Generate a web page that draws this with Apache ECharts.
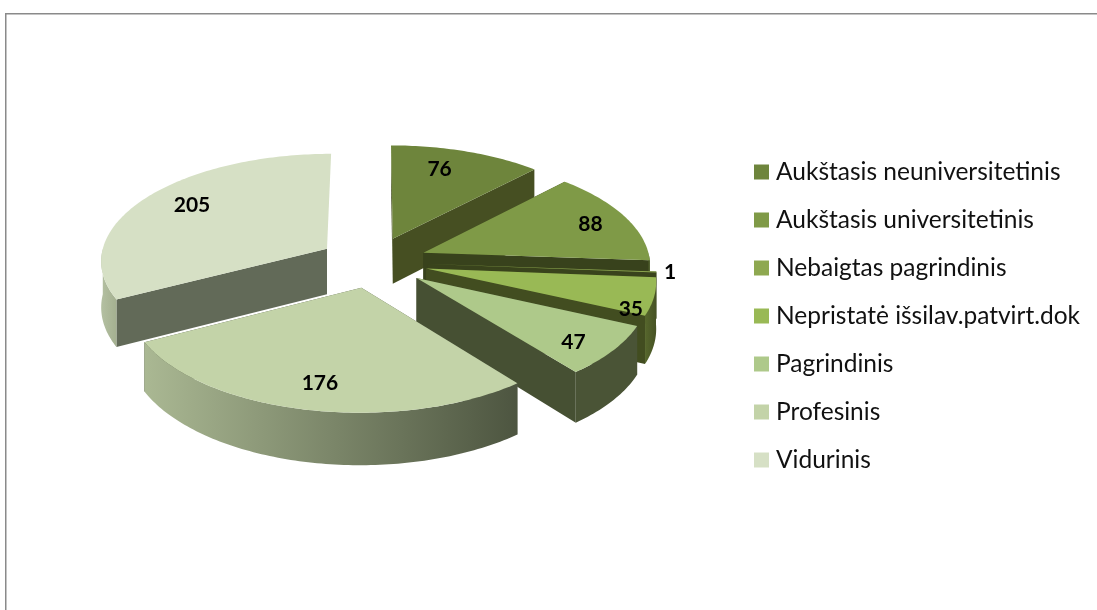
<!DOCTYPE html>
<html>
<head>
<meta charset="utf-8">
<style>
  html, body { margin: 0; padding: 0; background: #fff; }
  #main { width: 1097px; height: 610px; }
</style>
<script src="https://cdn.jsdelivr.net/npm/echarts@6/dist/echarts.min.js"></script>
</head>
<body>
<div id="main"></div>
<script>
const categories = ['Aukštasis neuniversitetinis', 'Aukštasis universitetinis', 'Nebaigtas pagrindinis',
  'Nepristatė išsilav.patvirt.dok', 'Pagrindinis', 'Profesinis', 'Vidurinis']
const values = [76, 88, 1, 35, 47, 176, 205]

const topColors = ['#6e853c', '#7f9a47', '#8ea850', '#99b955', '#aec98a', '#c3d3a8', '#d6e0c5']
const wallColors = ['#464f22', '#38421c', '#39431c', '#424d20', '#465033', '#4d5540', '#626a58']
const rimColors = [['#464f22', '#464f22'], ['#4a5a26', '#4a5a26'], ['#4a5a26', '#4a5a26'], ['#56662c', '#465224'],
  ['#4a5436', '#4a5436'], ['#aab893', '#4d5540'], ['#b4c0a2', '#a4b090']]
// where each number sits on its slice: radius, and turn away from the slice middle in degrees
const labelRadius = [0.76, 0.82, 1.06, 0.93, 0.84, 0.8, 0.77]
const labelTurn = [-4, 1, 0, 8.5, 3, -0.5, 3]
const paintOrder = [0, 6, 1, 2, 3, 4, 5]

// pie model, tilted and seen with a bit of perspective
const cx = 373, cy = 262, rx = 227, ry = 107, persp = 0.1, depth = 46, explode = 0.24

const total = values.reduce((a, b) => a + b, 0)
const toRad = d => d * Math.PI / 180

function project(u, v, down) {
  const k = 1 / (1 + persp * v)
  return [cx + rx * u * k, cy + (-ry * v + down) * k]
}

function sliceAngles(i) {
  const before = values.slice(0, i).reduce((a, b) => a + b, 0)
  return [before / total * 360, (before + values[i]) / total * 360]
}

// p in pie units for an angle (clockwise from the top) on slice i
function slicePoint(i, deg, r, down) {
  const [a0, a1] = sliceAngles(i)
  const mid = toRad((a0 + a1) / 2)
  const u = Math.sin(mid) * explode + Math.sin(toRad(deg)) * r
  const v = Math.cos(mid) * explode + Math.cos(toRad(deg)) * r
  return project(u, v, down)
}

function arcAngles(a0, a1) {
  const out = []
  for (let a = a0; a < a1; a += 1) out.push(a)
  out.push(a1)
  return out
}

function rimPoly(i, a0, a1) {
  const arc = arcAngles(a0, a1)
  return arc.map(a => slicePoint(i, a, 1, 0)).concat(arc.reverse().map(a => slicePoint(i, a, 1, depth)))
}

function wallPoly(i, deg) {
  return [slicePoint(i, deg, 0, 0), slicePoint(i, deg, 1, 0), slicePoint(i, deg, 1, depth), slicePoint(i, deg, 0, depth)]
}

function renderSlice(i) {
  return function () {
    const [a0, a1] = sliceAngles(i)
    const children = []
    const poly = (points, fill) => children.push({ type: 'polygon', shape: { points }, style: { fill } })
    const rimFill = { type: 'linear', x: 0, y: 0, x2: 1, y2: 0, colorStops: [
      { offset: 0, color: rimColors[i][0] }, { offset: 1, color: rimColors[i][1] }] }

    // cut walls, then front of the rim, top face last. back of the rim is never seen
    poly(wallPoly(i, a0), wallColors[i])
    // the wall at 12 o'clock on the last slice faces away
    if (a1 < 360) poly(wallPoly(i, a1), wallColors[i])
    if (a1 > 90 && a0 < 270) poly(rimPoly(i, Math.max(a0, 90), Math.min(a1, 270)), rimFill)
    poly([slicePoint(i, a0, 0, 0)].concat(arcAngles(a0, a1).map(a => slicePoint(i, a, 1, 0))), topColors[i])

    return { type: 'group', children }
  }
}

function renderLabel(params, api) {
  const i = params.dataIndex
  const [a0, a1] = sliceAngles(i)
  const [x, y] = slicePoint(i, (a0 + a1) / 2 + labelTurn[i], labelRadius[i], 0)
  return {
    type: 'text',
    x, y,
    style: { text: String(api.value(0)), fill: '#000', font: 'bold 21px Lato', align: 'center', verticalAlign: 'middle' }
  }
}

const series = categories.map((name, i) => ({
  type: 'custom',
  name,
  coordinateSystem: 'none',
  z: 2 + paintOrder.indexOf(i),
  silent: true,
  itemStyle: { color: topColors[i] },
  data: [[values[i]]],
  renderItem: renderSlice(i)
}))

series.push({
  type: 'custom',
  name: 'labels',
  coordinateSystem: 'none',
  z: 20,
  silent: true,
  data: values.map(v => [v]),
  renderItem: renderLabel
})

const chart = echarts.init(document.getElementById('main'), null, { renderer: 'canvas' })
chart.setOption({
  animation: false,
  backgroundColor: '#fff',
  legend: {
    data: categories,
    orient: 'vertical',
    left: 754,
    top: 158,
    padding: 0,
    icon: 'rect',
    itemWidth: 15,
    itemHeight: 15,
    itemGap: 20,
    selectedMode: false,
    textStyle: { fontFamily: 'Lato', fontSize: 24.5, color: '#111', lineHeight: 28, padding: [0, 0, 0, 2] }
  },
  graphic: [
    { type: 'rect', shape: { x: 5, y: 13, width: 1092, height: 1.5 }, style: { fill: '#8a8a8a' } },
    { type: 'rect', shape: { x: 5, y: 13, width: 1.5, height: 597 }, style: { fill: '#8a8a8a' } }
  ],
  series
})
</script>
</body>
</html>
